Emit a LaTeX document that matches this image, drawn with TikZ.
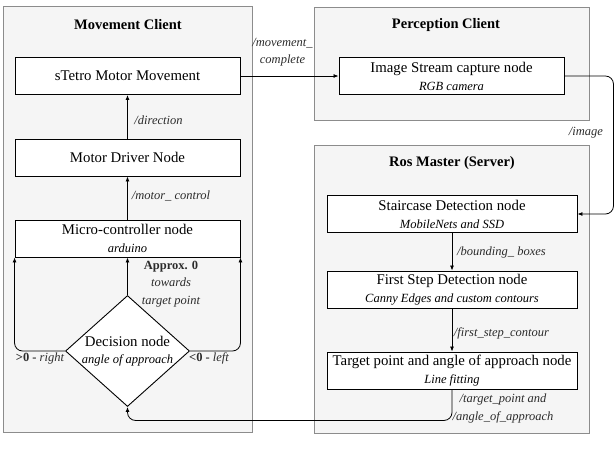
\documentclass[tikz,border=0pt]{standalone}
\usepackage{fontspec}
\setmainfont{Liberation Serif}
\usetikzlibrary{arrows.meta,shapes.geometric}
\definecolor{framefill}{HTML}{F5F5F5}
\definecolor{framedraw}{HTML}{8C8C8C}
\definecolor{topictext}{HTML}{2B2B2B}
\newcommand{\subtxt}[1]{{\fontsize{12.5}{15}\selectfont\itshape #1}}
\begin{document}
\begin{tikzpicture}[x=1pt, y=-1pt, >={Latex[length=5pt,width=4pt]},
  frame/.style={draw=framedraw, fill=framefill, line width=1pt},
  title/.style={font=\fontsize{14.5}{17}\selectfont\bfseries},
  box/.style={draw, fill=white, line width=0.9pt, align=center, minimum height=37pt, inner sep=1pt, font=\fontsize{14.8}{18}\selectfont},
  decision/.style={draw, fill=white, diamond, line width=0.9pt, minimum width=124pt, minimum height=111pt, inner sep=0pt},
  topic/.style={font=\fontsize{12.5}{17.5}\selectfont\itshape, text=topictext, align=center, inner sep=0pt},
  flow/.style={->, line width=0.8pt, rounded corners=8pt}]
\useasboundingbox (0,0) rectangle (615,450);
\node[frame, minimum width=249pt, minimum height=426pt] (movframe) at (127.5,219.5) {};
\node[frame, minimum width=275pt, minimum height=113pt] (percframe) at (451.5,63.5) {};
\node[frame, minimum width=275pt, minimum height=288pt] (rosframe) at (451.5,289) {};
\node[title] (movtitle) at (128,25) {Movement Client};
\node[title] (perctitle) at (446,25) {Perception Client};
\node[title] (rostitle) at (452,163) {Ros Master (Server)};

\node[box, minimum width=225pt] (stetro) at (127.5,76) {sTetro Motor Movement};
\node[box, minimum width=225pt] (driver) at (127.5,157.5) {Motor Driver Node};
\node[box, minimum width=225pt] (micro) at (127.5,238.5) {Micro-controller node\\\subtxt{arduino}};
\node[decision, label={[align=center, font=\fontsize{14.8}{17}\selectfont]center:{Decision node\\\subtxt{angle of approach}}}] (decision) at (127.5,351) {};
\node[box, minimum width=225pt] (camera) at (451.5,76) {Image Stream capture node\\\subtxt{RGB camera}};
\node[box, minimum width=250pt] (stairs) at (452,214) {Staircase Detection node\\\subtxt{MobileNets and SSD}};
\node[box, minimum width=250pt] (firststep) at (452,289.5) {First Step Detection node\\\subtxt{Canny Edges and custom contours}};
\node[box, minimum width=250pt] (target) at (452,370.5) {Target point and angle of approach node\\\subtxt{Line fitting}};

\draw[flow] (driver.north) -- (stetro.south);
\draw[flow] (micro.north) -- (driver.south);
\draw[flow] (decision.north) -- (micro.south);
\draw[flow] (decision.west) -| (micro.south west);
\draw[flow] (decision.east) -| (micro.south east);
\draw[flow] (stetro.east) -- (camera.west);
\draw[flow] (camera.east) -- ++(49,0) |- (stairs.east);
\draw[flow] (stairs.south) -- (firststep.north);
\draw[flow] (firststep.south) -- (target.north);
\draw[flow] (target.south) -- ++(0,31) -| (decision.south);

\node[topic] (ldirection) at (158.5,120) {/direction};
\node[topic] (lmotor) at (171,196) {/motor\_ control};
\node[topic] (lmovement) at (282.5,52) {/movement\_\\complete};
\node[topic] (limage) at (586,133) {/image};
\node[topic] (lboxes) at (501.5,252) {/bounding\_ boxes};
\node[topic] (lcontour) at (501.5,333) {/first\_step\_contour};
\node[topic] (ltarget) at (503,408.5) {/target\_point and\\/angle\_of\_approach};
\node[topic] (lstraight) at (171,284) {\textbf{\upshape Approx. 0}\\towards\\target point};
\node[topic] (lright) at (40,358) {\textbf{\upshape >0 -} right};
\node[topic] (lleft) at (209,358) {\textbf{\upshape <0 -} left};
\end{tikzpicture}
\end{document}
